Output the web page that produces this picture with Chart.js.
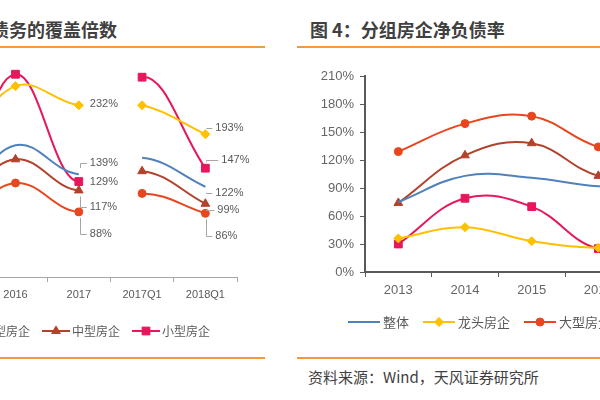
<!DOCTYPE html>
<html>
<head>
<meta charset="utf-8">
<script src="https://cdn.jsdelivr.net/npm/chart.js@4.4.0/dist/chart.umd.min.js"></script>
<style>
  body { margin: 0; width: 600px; height: 400px; overflow: hidden; background: #fff; position: relative; font-family: "Noto Sans CJK SC", sans-serif; }
  .title { position: absolute; top: 19px; line-height: 20px; font-size: 18px; font-weight: bold; color: #404040; white-space: nowrap; }
  .rule { position: absolute; height: 2px; background: #F39A3D; }
  .src { position: absolute; left: 308px; top: 368px; line-height: 18px; font-size: 15px; color: #404040; white-space: nowrap; }
  #wrapL { position: absolute; left: -250px; top: 40px; width: 500px; height: 320px; }
  #wrapR { position: absolute; left: 300px; top: 60px; width: 560px; height: 300px; }
</style>
</head>
<body>
<div class="title" style="right:483px">图 3：分组房企货币资金对短期债务的覆盖倍数</div>
<div class="title" style="left:310px">图 4：分组房企净负债率</div>
<div class="rule" style="left:0;width:265px;top:46px"></div>
<div class="rule" style="left:297px;width:303px;top:46px"></div>
<div class="rule" style="left:0;width:265px;top:357px"></div>
<div class="rule" style="left:297px;width:303px;top:357px"></div>
<div class="src">资料来源：Wind，天风证券研究所</div>
<div id="wrapL"><canvas id="chartL" width="500" height="320"></canvas></div>
<div id="wrapR"><canvas id="chartR" width="560" height="300"></canvas></div>
<script>
  // left chart: cash / short-term debt coverage (%)
  const catsL = ['2013', '2014', '2015', '2016', '2017', '2017Q1', '2018Q1'];
  const allL   = [120, 110, 100, 178, 139, 161, 122];
  const headL  = [190, 180, 170, 258, 232, 232, 193];
  const largeL = [100, 90, 75, 127, 88, 113, 86];
  const midL   = [120, 110, 100, 159, 117, 143, 99];
  const smallL = [150, 130, 110, 274, 129, 270, 147];

  // right chart: net gearing (%)
  const catsR = ['2013', '2014', '2015', '2016', '2017', '2018Q1'];
  const allR   = [75, 103, 101, 92, 92, 95];
  const headR  = [36, 48, 33, 26, 30, 32];
  const largeR = [129, 159, 167, 134, 125, 120];
  const midR   = [74, 125, 138, 103, 100, 105];
  const smallR = [30, 79, 70, 25, 35, 40];

  const ticksR = [0, 30, 60, 90, 120, 150, 180, 210];

  const names = ['整体', '龙头房企', '大型房企', '中型房企', '小型房企'];
  const colors = ['#4F81BD', '#FFC000', '#E8461E', '#B1422B', '#E6175C'];
  const marks = [false, 'rectRot', 'circle', 'triangle', 'rect'];
  const radii = [0, 4.5, 4, 5, 5.5];
  const FONT = 'Arial, "Liberation Sans", "Noto Sans CJK SC", sans-serif';

  function makeSets(series, gapAfter) {
    return series.map((data, i) => ({
      label: names[i],
      data: data,
      borderColor: colors[i],
      backgroundColor: colors[i],
      borderWidth: 2,
      tension: 0.4,
      pointStyle: marks[i] || 'circle',
      pointRadius: radii[i],
      pointBorderWidth: 1,
      segment: gapAfter == null ? undefined : {
        borderColor: c => c.p0DataIndex === gapAfter ? 'rgba(0,0,0,0)' : undefined
      }
    }));
  }

  // legend with a short line and the marker in its middle
  const lineLegend = {
    id: 'lineLegend',
    afterDraw(chart) {
      const o = chart.options.plugins.lineLegend;
      const ctx = chart.ctx;
      ctx.save();
      ctx.font = o.size + 'px "Noto Sans CJK SC", sans-serif';
      ctx.textBaseline = 'middle';
      let x = o.x;
      chart.data.datasets.forEach((ds, i) => {
        ctx.strokeStyle = ds.borderColor;
        ctx.lineWidth = 2;
        ctx.beginPath();
        ctx.moveTo(x, o.y);
        ctx.lineTo(x + o.line, o.y);
        ctx.stroke();
        if (ds.pointRadius > 0) {
          ctx.fillStyle = ds.backgroundColor;
          ctx.lineWidth = 1;
          Chart.helpers.drawPoint(ctx, { pointStyle: ds.pointStyle, radius: ds.pointRadius, rotation: 0, borderWidth: 1 }, x + o.line / 2, o.y);
        }
        ctx.fillStyle = '#595959';
        ctx.fillText(ds.label, x + o.line + o.gap, o.y);
        x += o.line + o.gap + ctx.measureText(ds.label).width + o.spacing;
      });
      ctx.restore();
    }
  };

  // value labels with grey leader lines (left chart)
  const labelShift = {
    4: { dx: [11, 11, 11, 11, 11], dy: [-11, -1, 22, 17, 0] },
    6: { dx: [10, 10, 10, 12, 16], dy: [6, -6, 23, 6, -8] }
  };
  const valueLabels = {
    id: 'valueLabels',
    afterDatasetsDraw(chart) {
      const ctx = chart.ctx;
      ctx.save();
      ctx.font = '11px ' + FONT;
      ctx.textBaseline = 'middle';
      ctx.textAlign = 'left';
      Object.keys(labelShift).forEach(k => {
        const idx = +k;
        chart.data.datasets.forEach((ds, i) => {
          const pt = chart.getDatasetMeta(i).data[idx];
          const lx = pt.x + labelShift[k].dx[i];
          const ly = pt.y + labelShift[k].dy[i];
          const dy = ly - pt.y;
          ctx.strokeStyle = '#A6A6A6';
          ctx.lineWidth = 1;
          ctx.beginPath();
          if (Math.abs(dy) >= 5) {
            const vx = Math.round(pt.x) + 1.5;
            ctx.moveTo(vx, pt.y + Math.sign(dy) * 6);
            ctx.lineTo(vx, Math.round(ly) + 0.5);
            ctx.lineTo(lx - 3, Math.round(ly) + 0.5);
            ctx.stroke();
          }
          ctx.fillStyle = '#595959';
          ctx.fillText(ds.data[idx] + '%', lx, ly);
        });
      });
      ctx.restore();
    }
  };

  new Chart(document.getElementById('chartL').getContext('2d'), {
    type: 'line',
    data: {
      labels: catsL,
      datasets: makeSets([allL, headL, largeL, midL, smallL], 4)
    },
    options: {
      responsive: false,
      animation: false,
      layout: { padding: { left: 44, right: 13, top: 15, bottom: 57 } },
      plugins: {
        legend: { display: false },
        tooltip: { enabled: false },
        lineLegend: { x: 46, y: 291, line: 28, gap: 2, spacing: 12, size: 12 }
      },
      scales: {
        x: {
          offset: true,
          grid: { offset: true, drawOnChartArea: false, tickLength: 5, color: '#A6A6A6' },
          border: { color: '#A6A6A6', width: 1 },
          ticks: { color: '#595959', font: { size: 11, family: FONT }, padding: 6, maxRotation: 0 },
          afterFit: s => { s.height = 26; }
        },
        y: { display: false, min: 0, max: 300 }
      }
    },
    plugins: [lineLegend, valueLabels]
  });

  new Chart(document.getElementById('chartR').getContext('2d'), {
    type: 'line',
    data: {
      labels: catsR,
      datasets: makeSets([allR, headR, largeR, midR, smallR], null)
    },
    options: {
      responsive: false,
      animation: false,
      layout: { padding: { left: 0, right: 95, top: 16, bottom: 60 } },
      plugins: {
        legend: { display: false },
        tooltip: { enabled: false },
        lineLegend: { x: 48, y: 262, line: 32, gap: 3, spacing: 14, size: 13 }
      },
      scales: {
        x: {
          offset: true,
          grid: { offset: true, drawOnChartArea: false, tickLength: 5, color: '#595959' },
          border: { color: '#595959', width: 2 },
          ticks: { color: '#666666', font: { size: 13, family: FONT }, padding: 6, maxRotation: 0 },
          afterFit: s => { s.height = 28; }
        },
        y: {
          min: ticksR[0],
          max: ticksR[ticksR.length - 1],
          afterBuildTicks: s => { s.ticks = ticksR.map(v => ({ value: v })); },
          grid: { drawOnChartArea: false, tickLength: 5, color: '#595959' },
          border: { color: '#595959', width: 2 },
          ticks: { color: '#666666', font: { size: 13, family: FONT }, padding: 6, callback: v => v + '%' },
          afterFit: s => { s.width = 65; }
        }
      }
    },
    plugins: [lineLegend]
  });
</script>
</body>
</html>
